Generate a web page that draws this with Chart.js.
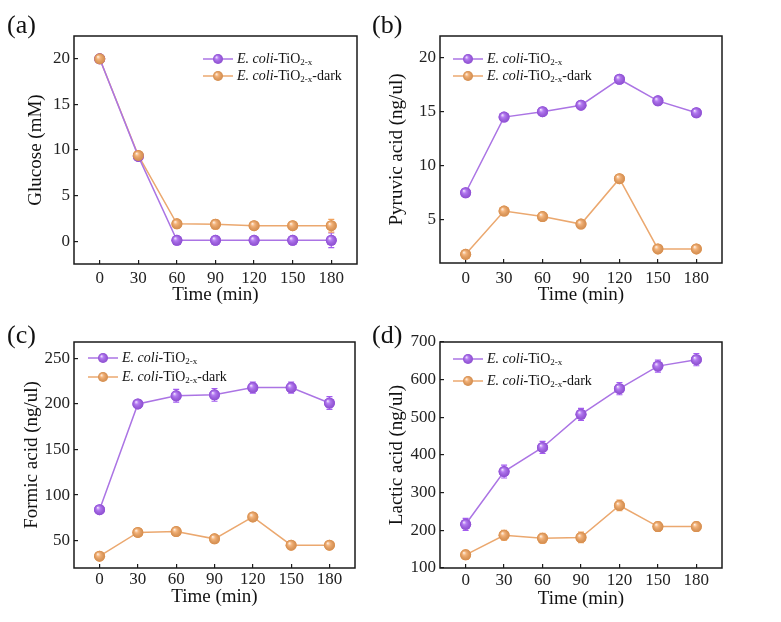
<!DOCTYPE html>
<html>
<head>
<meta charset="utf-8">
<script src="https://cdn.jsdelivr.net/npm/chart.js@4.4.1/dist/chart.umd.min.js"></script>
<style>
  html, body { margin: 0; padding: 0; background: #fff; }
  #page { position: relative; width: 781px; height: 622px; overflow: hidden; }
  .panel { position: absolute; }
  .tag { position: absolute; font-family: "Liberation Serif", "Times New Roman", serif; font-size: 26px; line-height: 26px; color: #111; }
</style>
</head>
<body>
<div id="page">
  <div class="panel" style="left:0;top:0;width:390px;height:310px"><canvas id="glucoseChart"></canvas></div>
  <div class="panel" style="left:388px;top:0;width:393px;height:310px"><canvas id="pyruvicChart"></canvas></div>
  <div class="panel" style="left:0;top:310px;width:390px;height:312px"><canvas id="formicChart"></canvas></div>
  <div class="panel" style="left:388px;top:310px;width:393px;height:312px"><canvas id="lacticChart"></canvas></div>
  <div class="tag" style="left:7px;top:12px">(a)</div>
  <div class="tag" style="left:372px;top:12px">(b)</div>
  <div class="tag" style="left:7px;top:322px">(c)</div>
  <div class="tag" style="left:372px;top:322px">(d)</div>
</div>
<script>
// sampling times (min)
const time = [0, 30, 60, 90, 120, 150, 180];

const glucoseLight = [20, 9.3, 0.1, 0.1, 0.1, 0.1, 0.1];
const glucoseDark = [20, 9.4, 1.9, 1.85, 1.7, 1.7, 1.7];
const glucoseLightErr = [0.2, 0.3, 0.3, 0.4, 0.3, 0.3, 0.8];
const glucoseDarkErr = [0.2, 0.3, 0.3, 0.5, 0.3, 0.3, 0.7];
const glucoseTicks = [0, 5, 10, 15, 20];

const pyruvicLight = [7.5, 14.5, 15.0, 15.6, 18.0, 16.0, 14.9];
const pyruvicDark = [1.8, 5.8, 5.3, 4.6, 8.8, 2.3, 2.3];
const pyruvicLightErr = [0.2, 0.2, 0.2, 0.2, 0.2, 0.2, 0.2];
const pyruvicDarkErr = [0.2, 0.2, 0.2, 0.2, 0.2, 0.2, 0.2];
const pyruvicTicks = [5, 10, 15, 20];

const formicLight = [84, 200, 209, 210, 218, 218, 201];
const formicDark = [33, 59, 60, 52, 76, 45, 45];
const formicLightErr = [3, 4, 7, 7, 6, 6, 7];
const formicDarkErr = [3, 3, 3, 3, 3, 3, 4];
const formicTicks = [50, 100, 150, 200, 250];

const lacticLight = [216, 356, 420, 508, 576, 636, 653];
const lacticDark = [135, 187, 179, 181, 266, 210, 210];
const lacticLightErr = [16, 17, 16, 16, 16, 16, 16];
const lacticDarkErr = [12, 13, 13, 14, 14, 12, 12];
const lacticTicks = [100, 200, 300, 400, 500, 600, 700];

const SERIF = "'Liberation Serif', 'Times New Roman', serif";
const PURPLE_LINE = "#ab74e4";
const PURPLE_DOT = "#a35cef";
const ORANGE_LINE = "#eba86f";
const ORANGE_DOT = "#f2a25b";

const lightKey = [{ t: "E. coli", i: true }, { t: "-TiO" }, { t: "2-x", sub: true }];
const darkKey = [{ t: "E. coli", i: true }, { t: "-TiO" }, { t: "2-x", sub: true }, { t: "-dark" }];

// error bars go under the markers
const errorBars = {
  id: "errorBars",
  beforeDatasetsDraw(chart) {
    const ctx = chart.ctx;
    const ys = chart.scales.y;
    chart.data.datasets.forEach((ds, di) => {
      const meta = chart.getDatasetMeta(di);
      ctx.save();
      ctx.strokeStyle = ds.pointBackgroundColor;
      ctx.lineWidth = 1.2;
      meta.data.forEach((pt, i) => {
        const v = ds.data[i].y, e = ds.err[i];
        const y1 = ys.getPixelForValue(v + e), y2 = ys.getPixelForValue(v - e);
        ctx.beginPath();
        ctx.moveTo(pt.x, y1); ctx.lineTo(pt.x, y2);
        ctx.moveTo(pt.x - 3, y1); ctx.lineTo(pt.x + 3, y1);
        ctx.moveTo(pt.x - 3, y2); ctx.lineTo(pt.x + 3, y2);
        ctx.stroke();
      });
      ctx.restore();
    });
  }
};

function shade(ctx, x, y, r, color) {
  ctx.beginPath();
  ctx.arc(x, y, r, 0, Math.PI * 2);
  ctx.fillStyle = color;
  ctx.fill();
  const g = ctx.createRadialGradient(x - r * 0.35, y - r * 0.4, 0, x, y, r);
  g.addColorStop(0, "rgba(255,255,255,0.9)");
  g.addColorStop(0.35, "rgba(255,255,255,0.2)");
  g.addColorStop(1, "rgba(0,0,0,0.12)");
  ctx.fillStyle = g;
  ctx.fill();
}

// glossy balls on top of the flat points
const balls = {
  id: "balls",
  afterDatasetsDraw(chart) {
    const ctx = chart.ctx;
    chart.data.datasets.forEach((ds, di) => {
      chart.getDatasetMeta(di).data.forEach((pt) => {
        shade(ctx, pt.x, pt.y, ds.pointRadius, ds.pointBackgroundColor);
      });
    });
  }
};

const frame = {
  id: "frame",
  afterDatasetsDraw(chart) {
    const { ctx, chartArea: a } = chart;
    ctx.save();
    ctx.strokeStyle = "#1a1a1a";
    ctx.lineWidth = 1.5;
    ctx.strokeRect(a.left, a.top, a.right - a.left, a.bottom - a.top);
    ctx.restore();
  }
};

const seriesKey = {
  id: "seriesKey",
  afterDraw(chart, args, opts) {
    const { ctx, chartArea: a } = chart;
    chart.data.datasets.forEach((ds, di) => {
      const x = a.left + opts.x;
      const y = a.top + opts.y + di * opts.gap;
      ctx.save();
      ctx.strokeStyle = ds.borderColor;
      ctx.lineWidth = 1.5;
      ctx.beginPath();
      ctx.moveTo(x, y); ctx.lineTo(x + 30, y);
      ctx.stroke();
      shade(ctx, x + 15, y, 5, ds.pointBackgroundColor);
      let tx = x + 34;
      ctx.fillStyle = "#111";
      ctx.textBaseline = "middle";
      ds.keyParts.forEach((p) => {
        ctx.font = (p.i ? "italic " : "") + (p.sub ? "9px " : "14px ") + SERIF;
        ctx.fillText(p.t, tx, p.sub ? y + 4 : y);
        tx += ctx.measureText(p.t).width;
      });
      ctx.restore();
    });
  }
};

function series(label, values, errs, line, dot, parts) {
  return {
    label: label,
    data: values.map((v, i) => ({ x: time[i], y: v })),
    err: errs,
    keyParts: parts,
    borderColor: line,
    borderWidth: 1.5,
    pointRadius: 5.5,
    pointBorderWidth: 0,
    pointBackgroundColor: dot,
    tension: 0
  };
}

function axisTitle(text) {
  return { display: true, text: text, color: "#111", padding: 0, font: { family: SERIF, size: 19, lineHeight: 1 } };
}

function buildChart(id, p) {
  return new Chart(document.getElementById(id), {
    type: "line",
    data: {
      datasets: [
        series("E. coli-TiO2-x", p.light, p.lightErr, PURPLE_LINE, PURPLE_DOT, lightKey),
        series("E. coli-TiO2-x-dark", p.dark, p.darkErr, ORANGE_LINE, ORANGE_DOT, darkKey)
      ]
    },
    options: {
      responsive: true,
      maintainAspectRatio: false,
      animation: false,
      layout: { padding: p.pad },
      plugins: {
        legend: { display: false },
        tooltip: { enabled: false },
        seriesKey: p.key
      },
      scales: {
        x: {
          type: "linear",
          min: -20,
          max: 200,
          afterBuildTicks: (s) => { s.ticks = time.map((v) => ({ value: v })); },
          afterFit: (s) => { s.height = p.xh; },
          border: { display: false },
          grid: { drawOnChartArea: false, tickLength: -4, color: "#1a1a1a", lineWidth: 1.2 },
          ticks: { color: "#222", padding: p.xpad, font: { family: SERIF, size: 17 } },
          title: axisTitle("Time (min)")
        },
        y: {
          min: p.ymin,
          max: p.ymax,
          afterBuildTicks: (s) => { s.ticks = p.ticks.map((v) => ({ value: v })); },
          afterFit: (s) => { s.width = p.yw; },
          border: { display: false },
          grid: { drawOnChartArea: false, tickLength: -4, color: "#1a1a1a", lineWidth: 1.2 },
          ticks: { color: "#222", padding: 8, font: { family: SERIF, size: 17 } },
          title: axisTitle(p.ytitle)
        }
      }
    },
    plugins: [errorBars, balls, frame, seriesKey]
  });
}

buildChart("glucoseChart", {
  light: glucoseLight, dark: glucoseDark, lightErr: glucoseLightErr, darkErr: glucoseDarkErr,
  ticks: glucoseTicks, ymin: -2.5, ymax: 22.5, ytitle: "Glucose (mM)",
  pad: { left: 27, top: 36, right: 33, bottom: 5 }, yw: 47, xh: 41, xpad: 8,
  key: { x: 129, y: 23, gap: 17 }
});

buildChart("pyruvicChart", {
  light: pyruvicLight, dark: pyruvicDark, lightErr: pyruvicLightErr, darkErr: pyruvicDarkErr,
  ticks: pyruvicTicks, ymin: 1, ymax: 22, ytitle: "Pyruvic acid (ng/ul)",
  pad: { left: 0, top: 36, right: 59, bottom: 5 }, yw: 52, xh: 42, xpad: 9,
  key: { x: 13, y: 23, gap: 17 }
});

buildChart("formicChart", {
  light: formicLight, dark: formicDark, lightErr: formicLightErr, darkErr: formicDarkErr,
  ticks: formicTicks, ymin: 20, ymax: 268, ytitle: "Formic acid (ng/ul)",
  pad: { left: 23, top: 32, right: 35, bottom: 15 }, yw: 51, xh: 39, xpad: 5,
  key: { x: 14, y: 16, gap: 19 }
});

buildChart("lacticChart", {
  light: lacticLight, dark: lacticDark, lightErr: lacticLightErr, darkErr: lacticDarkErr,
  ticks: lacticTicks, ymin: 100, ymax: 700, ytitle: "Lactic acid (ng/ul)",
  pad: { left: 0, top: 32, right: 59, bottom: 13 }, yw: 52, xh: 41, xpad: 6,
  key: { x: 13, y: 17, gap: 22 }
});
</script>
</body>
</html>
